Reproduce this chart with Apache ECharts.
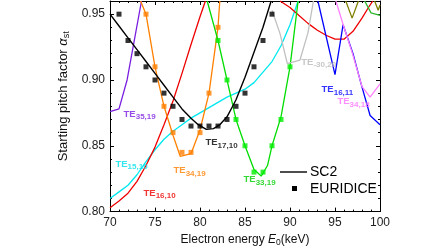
<!DOCTYPE html>
<html>
<head>
<meta charset="utf-8">
<script src="https://cdn.jsdelivr.net/npm/echarts@6/dist/echarts.min.js"></script>
<style>
html,body{margin:0;padding:0;background:#fff;}
#chart{width:448px;height:252px;}
</style>
</head>
<body>
<div id="chart"></div>
<script>
// SC2 mode curves [energy keV, alpha]
var sc2Line = [[70,0.95],[71,0.941],[72,0.932],[73,0.923],[74,0.914],[75,0.905],[76,0.896],[77,0.887],[78,0.878],[79,0.871],[79.8,0.866],[80.7,0.8625],[81.5,0.863],[82.2,0.866],[83,0.872],[83.7,0.881],[84,0.885],[85,0.902],[86,0.921],[87,0.94],[87.9,0.96]];
var euridice = [[71,0.95],[72,0.93],[73,0.92],[74,0.91],[75,0.90],[76,0.89],[77,0.88],[78,0.87],[79,0.865],[80,0.865],[81,0.865],[82,0.865],[83,0.87],[84,0.88],[85,0.89],[86,0.91],[87,0.93],[88,0.95]];
var te3519 = [[70,0.876],[71,0.878],[71.9,0.9],[72.7,0.93],[73.5,0.96]];
var te1510 = [[70,0.810],[71,0.815],[72,0.820],[73,0.828],[74,0.838],[75,0.847],[76,0.855],[77,0.861],[78,0.866],[79,0.871],[80,0.875],[81,0.879],[82,0.883],[83,0.887],[84,0.890],[85,0.893],[86,0.898],[87,0.906],[88,0.914],[89,0.926],[90,0.942],[90.9,0.96]];
var te1610 = [[70,0.803],[71,0.808],[72,0.814],[73,0.823],[74,0.835],[75,0.849],[76,0.866],[77,0.884],[78,0.905],[79,0.927],[80,0.948],[80.6,0.96]];
var te3419 = [[73.4,0.96],[74,0.95],[75,0.91],[76,0.88],[77,0.858],[77.8,0.842],[79,0.844],[80,0.862],[81,0.89],[82,0.94],[82.2,0.96]];
var te3419Pts = [[74,0.95],[75,0.91],[76,0.88],[77,0.86],[78,0.845],[79,0.845],[80,0.86],[81,0.89],[82,0.94]];
var te3319 = [[80.8,0.96],[82,0.93],[83,0.90],[84,0.87],[85,0.85],[86,0.832],[86.8,0.827],[87.5,0.835],[88,0.85],[89,0.872],[90,0.91],[90.9,0.96]];
var te3319Pts = [[82,0.93],[83,0.90],[84,0.87],[85,0.85],[86,0.83],[87,0.83],[88,0.85],[89,0.87],[90,0.91]];
var teM3020 = [[88,0.953],[88.9,0.935],[89.7,0.9125],[91.1,0.915],[92,0.936],[92.6,0.96]];
var te1611 = [[93.1,0.96],[95,0.904],[95.9,0.942],[97,0.92],[97.9,0.897],[98.9,0.873],[100,0.866]];
var te3418 = [[95.1,0.96],[96,0.94],[96.9,0.921],[98,0.895],[98.9,0.887],[100,0.897]];
var redUpper = [[88.9,0.96],[90,0.955],[91,0.949],[92,0.943],[93,0.938],[94,0.934],[95,0.931],[96,0.931],[97,0.937],[98,0.947],[98.8,0.956],[99.2,0.96]];
var oliveA = [[96.2,0.96],[96.9,0.947],[97.6,0.96]];
var oliveB = [[99.4,0.96],[99.8,0.953],[100,0.957]];
var greenUpper = [[98.3,0.96],[99,0.951],[100,0.949]];

var modeSubs = ['35,19','15,10','16,10','34,19','17,10','33,19','-30,20','16,11','34,18'];
var xTicks = {min:70, max:100, interval:5};
var yTicks = {min:0.80, max:0.96, interval:0.05};

// label anchors (left edge, vertical middle) in data units
var modeLabelAt = [[71.45,0.874],[70.55,0.836],[73.67,0.814],[77.0,0.831],[80.55,0.8525],[84.78,0.8245],[91.2,0.9137],[93.45,0.8927],[95.22,0.8838]];
var modeColors = ['#7a1fe0','#00e0e8','#ee0000','#ff8000','#000000','#00d000','#b8b8b8','#0000ff','#ff70ff'];

var FONT = 'Arial, "Liberation Sans", sans-serif';

function lineSeries(data, color, w) {
    return {type:'line', data:data, symbol:'none', clip:true, silent:true,
        lineStyle:{color:color, width:w || 1.3}, itemStyle:{color:color}, z:2};
}
function pointSeries(data, color, size) {
    return {type:'scatter', data:data, symbol:'rect', symbolSize:size, silent:true,
        itemStyle:{color:color}, z:3};
}

var axisBase = {
    type:'value',
    axisLine:{show:true, onZero:false, lineStyle:{color:'#000', width:1}},
    axisTick:{show:true, inside:true, length:4, lineStyle:{color:'#000'}},
    minorTick:{show:true, splitNumber:5, length:2, lineStyle:{color:'#000'}},
    splitLine:{show:false}
};
function ax(extra) { return Object.assign({}, axisBase, extra); }

var labelData = modeSubs.map(function(s, i){
    var c = modeColors[i];
    return {
        value: modeLabelAt[i],
        label: {
            formatter: '{t|TE}{s|' + s + '}',
            rich: {
                t: {fontFamily:FONT, fontSize:9.5, fontWeight:'bold', color:c},
                s: {fontFamily:FONT, fontSize:8, fontWeight:'bold', color:c, padding:[6,0,0,0]}
            }
        }
    };
});

var myChart = echarts.init(document.getElementById('chart'));
var option = {
    animation:false,
    grid:{left:110, right:68, top:1, bottom:34},
    xAxis:[
        ax({min:xTicks.min, max:xTicks.max, interval:xTicks.interval, position:'bottom',
            axisLabel:{color:'#222', fontFamily:FONT, fontSize:12, margin:5},
            name:'Electron energy {i|E}{s|0}(keV)', nameLocation:'middle', nameGap:18,
            nameTextStyle:{color:'#111', fontFamily:FONT, fontSize:12,
                rich:{i:{fontFamily:FONT, fontSize:12, fontStyle:'italic', color:'#111'},
                      s:{fontFamily:FONT, fontSize:8.5, color:'#111', padding:[6,0,0,0]}}}}),
        ax({min:xTicks.min, max:xTicks.max, interval:xTicks.interval, position:'top', axisLabel:{show:false}})
    ],
    yAxis:[
        ax({min:yTicks.min, max:yTicks.max, interval:yTicks.interval, position:'left',
            axisLabel:{color:'#222', fontFamily:FONT, fontSize:12, margin:5, showMaxLabel:false,
                formatter:function(v){ return v.toFixed(2); }},
            name:'Starting pitch factor {a|α}{s|st}', nameLocation:'middle', nameGap:35, nameRotate:90,
            nameTextStyle:{color:'#111', fontFamily:FONT, fontSize:13, padding:[0,0,0,20],
                rich:{a:{fontFamily:FONT, fontSize:13, fontStyle:'italic', color:'#111'},
                      s:{fontFamily:FONT, fontSize:9, color:'#111', padding:[6,0,0,0]}}}}),
        ax({min:yTicks.min, max:yTicks.max, interval:yTicks.interval, position:'right', axisLabel:{show:false}})
    ],
    series:[
        lineSeries(te1510, '#00e8f0'),
        lineSeries(te1610, '#ee0000'),
        lineSeries(redUpper, '#ee0000'),
        lineSeries(te3519, '#7a1fe0'),
        lineSeries(te3419, '#ff8000'),
        lineSeries(te3319, '#00dd00'),
        lineSeries(teM3020, '#c0c0c0'),
        lineSeries(te1611, '#0000ff'),
        lineSeries(te3418, '#ff80ff'),
        lineSeries(oliveA, '#808000'),
        lineSeries(oliveB, '#808000'),
        lineSeries(greenUpper, '#2eb82e'),
        lineSeries(sc2Line, '#000000', 1.4),
        pointSeries(te3419Pts, '#ff8000', 5),
        pointSeries(te3319Pts, '#00ee00', 5),
        pointSeries(euridice, '#000000', 5),
        {type:'scatter', data:labelData, symbolSize:1, silent:true, itemStyle:{color:'rgba(0,0,0,0)'},
            label:{show:true, position:'right', distance:0}, z:4}
    ],
    graphic:[
        {type:'line', shape:{x1:280, y1:172, x2:307, y2:172}, style:{stroke:'#000', lineWidth:1.4}},
        {type:'text', x:310, y:172, style:{text:'SC2', font:'14px ' + FONT, fill:'#000', verticalAlign:'middle'}},
        {type:'rect', shape:{x:292, y:186, width:5, height:5}, style:{fill:'#000'}},
        {type:'text', x:310, y:189, style:{text:'EURIDICE', font:'14px ' + FONT, fill:'#000', verticalAlign:'middle'}}
    ]
};
myChart.setOption(option);
</script>
</body>
</html>
